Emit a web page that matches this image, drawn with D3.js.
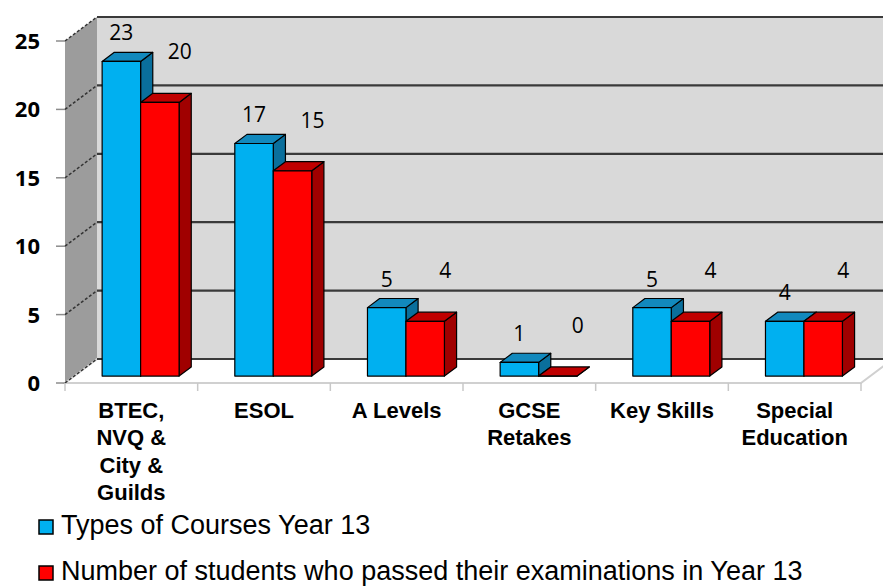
<!DOCTYPE html>
<html>
<head>
<meta charset="utf-8">
<script src="https://cdn.jsdelivr.net/npm/d3@7"></script>
<style>
  body { margin: 0; background: #fff; }
  svg { display: block; }
</style>
</head>
<body>
<script>
// chart data
var categories = ["BTEC,\nNVQ &\nCity &\nGuilds", "ESOL", "A Levels", "GCSE\nRetakes", "Key Skills", "Special\nEducation"];
var series = ["Types of Courses Year 13", "Number of students who passed their examinations in Year 13"];
var courses = [23, 17, 5, 1, 5, 4];
var passed = [20, 15, 4, 0, 4, 4];
var yTicks = [0, 5, 10, 15, 20, 25];

var width = 883, height = 586;

// fake 3d: depth goes right and up
var depthX = 32, depthY = -24;
var zFront = 0.29, zBack = 0.67;

var colors = [
    {front: "#00b0f0", top: "#1289bd", side: "#0a6f9c"},
    {front: "#ff0000", top: "#c00000", side: "#a00000"}
];

var svg = d3.select("body").append("svg")
    .attr("width", width)
    .attr("height", height);

var x = d3.scaleBand()
    .domain(d3.range(categories.length))
    .range([65, 861])
    .paddingInner(0.42)
    .paddingOuter(0.21);

var xFloor = d3.scaleBand()
    .domain(d3.range(categories.length))
    .range([65, 861]);

var xs = d3.scaleBand()
    .domain([0, 1])
    .range([0, x.bandwidth()]);

var y = d3.scaleLinear()
    .domain([0, 25])
    .range([383, 41]);

function proj(xf, v, z) {
    return [xf + depthX * z, y(v) + depthY * z];
}
function poly(pts) {
    return pts.map(function(p){ return p[0] + "," + p[1]; }).join(" ");
}

var x0 = 65, x1 = 861;

// side wall
svg.append("polygon")
    .attr("points", poly([proj(x0,0,0), proj(x0,25,0), proj(x0,25,1), proj(x0,0,1)]))
    .attr("fill", "#9c9c9c");

// back wall
svg.append("polygon")
    .attr("points", poly([proj(x0,0,1), proj(x0,25,1), proj(x1+40,25,1), proj(x1+40,0,1)]))
    .attr("fill", "#d9d9d9");

// floor
svg.append("polygon")
    .attr("points", poly([proj(x0,0,0), proj(x0,0,1), proj(x1,0,1), proj(x1,0,0)]))
    .attr("fill", "#ffffff")
    .attr("stroke", "#d0d0d0")
    .attr("stroke-width", 2);

// gridlines on back wall
svg.append("g").selectAll("line")
    .data(yTicks)
    .enter().append("line")
    .attr("x1", function(d){ return proj(x0,d,1)[0]; })
    .attr("y1", function(d){ return proj(x0,d,1)[1]; })
    .attr("x2", width + 10)
    .attr("y2", function(d){ return proj(x0,d,1)[1]; })
    .attr("stroke", "#3a3a3a")
    .attr("stroke-width", 2.2);

// gridlines on side wall
svg.append("g").selectAll("line")
    .data(yTicks)
    .enter().append("line")
    .attr("x1", function(d){ return proj(x0,d,0)[0]; })
    .attr("y1", function(d){ return proj(x0,d,0)[1]; })
    .attr("x2", function(d){ return proj(x0,d,1)[0]; })
    .attr("y2", function(d){ return proj(x0,d,1)[1]; })
    .attr("stroke", "#333")
    .attr("stroke-width", 1.5)
    .attr("stroke-dasharray", "3,2");

// y axis ticks and labels
svg.append("g").selectAll("line")
    .data(yTicks)
    .enter().append("line")
    .attr("x1", 56).attr("x2", x0)
    .attr("y1", function(d){ return y(d); })
    .attr("y2", function(d){ return y(d); })
    .attr("stroke", "#8c8c8c")
    .attr("stroke-width", 1.5);

svg.append("g").selectAll("text")
    .data(yTicks)
    .enter().append("text")
    .attr("x", 40)
    .attr("y", function(d){ return y(d) + 8; })
    .attr("text-anchor", "end")
    .attr("font-family", "'Open Sans', sans-serif")
    .attr("font-weight", "bold")
    .attr("font-size", 22)
    .text(function(d){ return d; });

// category ticks below floor
svg.append("g").selectAll("line")
    .data(d3.range(categories.length + 1))
    .enter().append("line")
    .attr("x1", function(i){ return x0 + i * xFloor.step(); })
    .attr("x2", function(i){ return x0 + i * xFloor.step(); })
    .attr("y1", y(0))
    .attr("y2", y(0) + 8)
    .attr("stroke", "#c8c8c8")
    .attr("stroke-width", 1.5);

// bars
var bars = [];
categories.forEach(function(c, i){
    [courses, passed].forEach(function(vals, s){
        bars.push({cat: i, s: s, v: vals[i]});
    });
});

var barG = svg.append("g")
    .attr("stroke", "#000")
    .attr("stroke-width", 1.2)
    .attr("stroke-linejoin", "round");

bars.forEach(function(d){
    var xf = x(d.cat) + xs(d.s), w = xs.bandwidth();
    var col = colors[d.s];
    barG.append("polygon")
        .attr("points", poly([proj(xf+w,0,zFront), proj(xf+w,d.v,zFront), proj(xf+w,d.v,zBack), proj(xf+w,0,zBack)]))
        .attr("fill", col.side);
    barG.append("polygon")
        .attr("points", poly([proj(xf,d.v,zFront), proj(xf+w,d.v,zFront), proj(xf+w,d.v,zBack), proj(xf,d.v,zBack)]))
        .attr("fill", col.top);
    barG.append("polygon")
        .attr("points", poly([proj(xf,0,zFront), proj(xf,d.v,zFront), proj(xf+w,d.v,zFront), proj(xf+w,0,zFront)]))
        .attr("fill", col.front);
});

// data labels
svg.append("g").selectAll("text")
    .data(bars)
    .enter().append("text")
    .attr("x", function(d){
        var p = proj(x(d.cat) + xs(d.s) + xs.bandwidth() / 2, d.v, zFront);
        return p[0] + (d.s == 0 ? 0 : 20);
    })
    .attr("y", function(d){
        var p = proj(0, d.v, zFront);
        return p[1] + (d.s == 0 ? -28 : -50) + 7;
    })
    .attr("text-anchor", "middle")
    .attr("font-family", "'Open Sans', sans-serif")
    .attr("font-size", 21)
    .text(function(d){ return d.v; });

// category labels
var catG = svg.append("g").selectAll("text")
    .data(categories)
    .enter().append("text")
    .attr("text-anchor", "middle")
    .attr("font-family", "'Liberation Sans', Arial, sans-serif")
    .attr("font-weight", "bold")
    .attr("font-size", 22);

catG.each(function(d, i){
    var t = d3.select(this);
    d.split("\n").forEach(function(line, j){
        t.append("tspan")
            .attr("x", xFloor(i) + xFloor.bandwidth() / 2)
            .attr("y", 418 + j * 27.3)
            .text(line);
    });
});

// legend
var legend = svg.append("g").selectAll("g")
    .data(series)
    .enter().append("g")
    .attr("transform", function(d, i){ return "translate(39," + (520 + i * 46) + ")"; });

legend.append("rect")
    .attr("width", 14).attr("height", 14)
    .attr("fill", function(d, i){ return colors[i].front; })
    .attr("stroke", "#000")
    .attr("stroke-width", 1.5);

legend.append("text")
    .attr("x", 22)
    .attr("y", 14)
    .attr("font-family", "'Liberation Sans', Arial, sans-serif")
    .attr("font-size", 27)
    .text(function(d){ return d; });
</script>
</body>
</html>
